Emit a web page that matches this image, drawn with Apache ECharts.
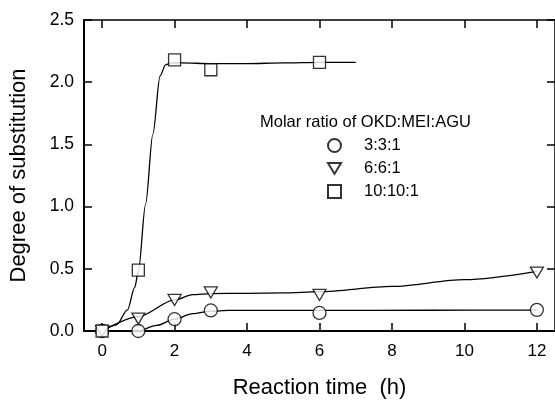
<!DOCTYPE html>
<html><head><meta charset="utf-8">
<script src="https://cdn.jsdelivr.net/npm/echarts@6/dist/echarts.min.js"></script>
<style>html,body{margin:0;padding:0;background:#fff}#c{width:555px;height:404px}</style>
</head><body><div id="c"></div><script>
// measured points
const timeH = [0, 1, 2, 3, 6, 12];
const ds331 = [0, 0, 0.095, 0.165, 0.145, 0.17];
const ds661 = [0, 0.10, 0.25, 0.31, 0.29, 0.47];
const time10 = [0, 1, 2, 3, 6];
const ds10101 = [0, 0.49, 2.18, 2.10, 2.16];
// fitted curves
const fit331X = [0, 1, 1.5, 2, 2.5, 3, 3.5, 4.5, 6, 9, 12];
const fit331Y = [0, 0.002, 0.045, 0.095, 0.14, 0.16, 0.165, 0.165, 0.166, 0.167, 0.168];
const fit661X = [0, 1, 2, 2.5, 3, 4, 5, 6, 8, 10, 12];
const fit661Y = [0, 0.115, 0.25, 0.292, 0.301, 0.303, 0.306, 0.316, 0.358, 0.413, 0.48];
const fit10X = [0, 0.4, 0.7, 0.9, 1.0, 1.2, 1.4, 1.6, 1.75, 1.9, 2.2, 3, 4, 5, 6, 7];
const fit10Y = [0, 0.05, 0.17, 0.35, 0.48, 1.02, 1.58, 2.05, 2.14, 2.155, 2.155, 2.15, 2.15, 2.155, 2.16, 2.16];
// ticks and labels
const xTicks = [0, 2, 4, 6, 8, 10, 12];
const seriesNames = ['3:3:1', '6:6:1', '10:10:1'];
const legendTitle = 'Molar ratio of OKD:MEI:AGU';
const xTitle = 'Reaction time  (h)';
const yTitle = 'Degree of substitution';

const zip = (xs, ys) => xs.map((x, i) => [x, ys[i]]);
const FONT = 'Liberation Sans, Arial, sans-serif';
const mk = {color: '#fff', borderColor: '#000', borderWidth: 1.3};
const fitLine = (xs, ys) => ({
  type: 'line', data: zip(xs, ys), showSymbol: false, symbol: 'none', smooth: 0.3, smoothMonotone: 'x',
  lineStyle: {color: '#000', width: 1.3}, silent: true, z: 1, legendHoverLink: false
});

const chart = echarts.init(document.getElementById('c'), null, {renderer: 'canvas'});
chart.setOption({
  animation: false,
  backgroundColor: '#fff',
  textStyle: {fontFamily: FONT, color: '#000'},
  title: {text: legendTitle, left: 260, top: 114, padding: 0, textStyle: {fontSize: 16.5, fontWeight: 'normal', color: '#000', fontFamily: FONT}},
  legend: {
    data: seriesNames, orient: 'vertical', left: 327, top: 137, padding: 0, itemWidth: 13, itemHeight: 13,
    itemGap: 6, textStyle: {fontSize: 16.5, color: '#000', fontFamily: FONT, padding: [0, 0, 0, 18]}, selectedMode: false
  },
  grid: {left: 81, top: 20, width: 476, height: 316.7, containLabel: false},
  xAxis: [{
    type: 'value', min: -0.5, max: 12.5, position: 'bottom',
    axisLine: {onZero: false, lineStyle: {color: '#000', width: 2}},
    axisTick: {inside: true, length: 8, lineStyle: {color: '#000', width: 1.5}, customValues: xTicks},
    axisLabel: {customValues: xTicks, fontSize: 17, color: '#000', margin: 12, fontFamily: FONT},
    splitLine: {show: false},
    name: xTitle, nameLocation: 'middle', nameGap: 46, nameTextStyle: {fontSize: 22, color: '#000', fontFamily: FONT}
  }, {
    type: 'value', min: -0.5, max: 12.5, position: 'top',
    axisLine: {onZero: false, lineStyle: {color: '#000', width: 1.5}},
    axisTick: {inside: true, length: 8, lineStyle: {color: '#000', width: 1.5}, customValues: xTicks},
    axisLabel: {show: false}, splitLine: {show: false}
  }],
  yAxis: [{
    type: 'value', min: 0, max: 2.5, interval: 0.5, position: 'left',
    axisLine: {show: true, onZero: false, lineStyle: {color: '#000', width: 2}},
    axisTick: {show: true, inside: true, length: 8, lineStyle: {color: '#000', width: 1.5}},
    axisLabel: {fontSize: 17.5, color: '#000', margin: 10, fontFamily: FONT, formatter: v => v.toFixed(1)},
    splitLine: {show: false},
    name: yTitle, nameLocation: 'middle', nameGap: 54, nameTextStyle: {fontSize: 22, color: '#000', fontFamily: FONT}
  }, {
    type: 'value', min: 0, max: 2.5, interval: 0.5, position: 'right',
    axisLine: {show: true, onZero: false, lineStyle: {color: '#000', width: 1.5}},
    axisTick: {show: true, inside: true, length: 8, lineStyle: {color: '#000', width: 1.5}},
    axisLabel: {show: false}, splitLine: {show: false}
  }],
  series: [
    fitLine(fit331X, fit331Y),
    fitLine(fit661X, fit661Y),
    fitLine(fit10X, fit10Y),
    {name: seriesNames[0], type: 'scatter', data: zip(timeH, ds331), symbol: 'circle', symbolSize: 13, itemStyle: mk, z: 5},
    {name: seriesNames[1], type: 'scatter', data: zip(timeH, ds661), symbol: 'path://M0,0L12,0L6,10Z', symbolSize: [13, 11], itemStyle: mk, z: 5},
    {name: seriesNames[2], type: 'scatter', data: zip(time10, ds10101), symbol: 'rect', symbolSize: 12, itemStyle: mk, z: 5}
  ]
});
</script></body></html>
